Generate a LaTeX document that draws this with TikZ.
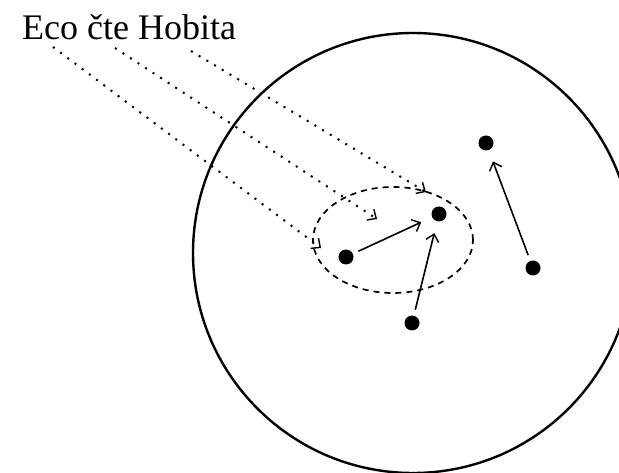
\documentclass[tikz,border=0pt]{standalone}
\usepackage{fontspec}
\setmainfont{Liberation Serif}
\usetikzlibrary{arrows.meta,shapes.geometric}
\begin{document}
\begin{tikzpicture}[x=1pt,y=-1pt, >={Straight Barb[length=7pt,width=13pt,line width=1.4pt]},
  dot/.style={circle,fill,inner sep=0pt,minimum size=15pt},
  move/.style={->,line width=1.6pt,shorten <=6pt,shorten >=12pt},
  read/.style={->,line width=2pt,dash pattern=on 2pt off 7pt}]
\useasboundingbox (0,0) rectangle (619,473);
\clip (0,0) rectangle (619,473);
\node[draw,circle,line width=2.4pt,minimum size=440pt,inner sep=0pt] (world) at (413,253) {};
\node[draw,ellipse,line width=1.7pt,dash pattern=on 6pt off 5pt,minimum width=160pt,minimum height=106pt,inner sep=0pt] (grp) at (393,240) {};
\node[anchor=base west,inner sep=0pt,font=\fontsize{36}{40}\selectfont] (title) at (22,40) {Eco čte Hobita};
\node[dot] (a) at (346,257) {};
\node[dot] (b) at (439,214) {};
\node[dot] (c) at (412,323) {};
\node[dot] (d) at (486,143) {};
\node[dot] (e) at (533,268) {};
\draw[move] (a)--(b);\draw[move] (c)--(b);\draw[move] (e)--(d);
% dotted reading lines
\coordinate (s1) at (53,47);\coordinate (s2) at (115,48);\coordinate (s3) at (191,51);
\coordinate (t1) at (321,248);\coordinate (t2) at (377,219);\coordinate (t3) at (426,192);
\draw[read] (s1)--(t1);\draw[read] (s2)--(t2);\draw[read] (s3)--(t3);
\end{tikzpicture}
\end{document}
